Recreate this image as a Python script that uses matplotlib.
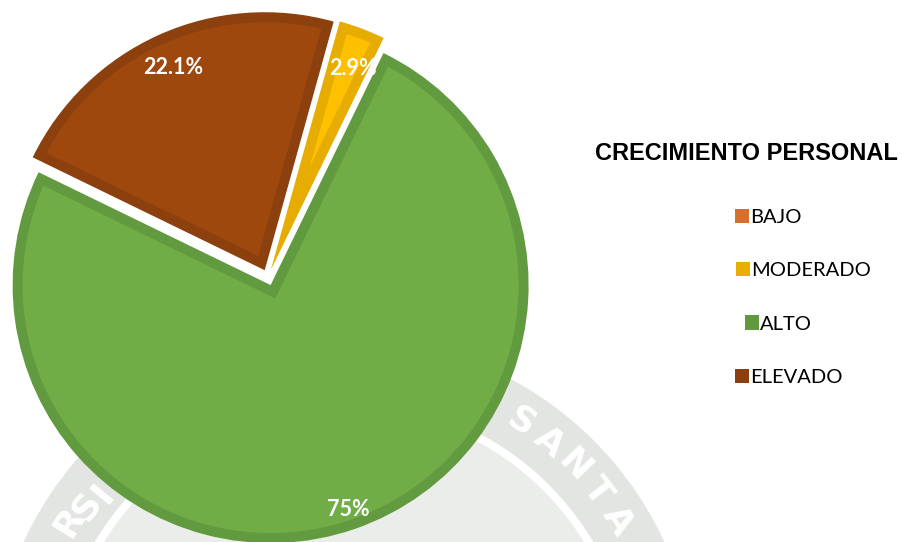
import matplotlib
matplotlib.use('Agg')
import matplotlib.pyplot as plt
from matplotlib.patches import Rectangle, Wedge, Polygon
import numpy as np

# ---- data ----
categories = ['BAJO', 'MODERADO', 'ALTO', 'ELEVADO']
values = [0.0, 2.9, 75.0, 22.1]
fill_colors = ['#D4712E', '#FFC000', '#70AD47', '#9E480E']
edge_colors = ['#C0631F', '#E6AD00', '#629A3F', '#8C400E']
legend_colors = ['#D66F2E', '#E8AE00', '#62993E', '#8B3F0E']
legend_title = 'CRECIMIENTO PERSONAL'

W, H = 904, 542
fig = plt.figure(figsize=(W / 100, H / 100), dpi=100)
fig.patch.set_facecolor('white')

R = 258.0              # pie radius in pixels
cx, cy = 268.0, 277.5  # pie centre in pixels (from top-left)
border = 10.0 / R      # inner border width (data units)

ax = fig.add_axes([0, 0, 1, 1])
ax.set_facecolor('none')

# ---- faint watermark seal (background) ----
sx, sy = (344 - cx) / R, (cy - 690) / R
ax.add_patch(Wedge((sx, sy), 282 / R, 0, 360,
                   facecolor='#EBEDEA', edgecolor='none', zorder=0))
ax.add_patch(Wedge((sx, sy), 353 / R, 0, 360, width=63 / R,
                   facecolor='#E2E5E1', edgecolor='none', zorder=0))
for word, angs, rads in [('SANTA', [56.6, 50.4, 44.2, 38.0, 31.8], [322] * 5),
                         ('RSI', [148.5, 144.5, 140.7], [322, 316, 311])]:
    for ch, a, rr in zip(word, angs, rads):
        t = np.deg2rad(a)
        ax.text(sx + rr / R * np.cos(t), sy + rr / R * np.sin(t), ch,
                rotation=a - 90, ha='center', va='center', fontsize=26,
                fontweight='bold', color='white', family='DejaVu Sans',
                zorder=0.5)


def fmt(p):
    return '' if p < 0.05 else f'{round(p, 1):g}%'


wedges, texts, autotexts = ax.pie(
    values, explode=[8 / R] * len(values), startangle=74.5, counterclock=False,
    colors=edge_colors, autopct=fmt, pctdistance=0.86, radius=1.0,
    wedgeprops=dict(linewidth=0, edgecolor='none'),
    textprops=dict(color='white', fontsize=15.5, fontweight='bold', family='Lato'))


def inset_polygon(w, b):
    P = np.array(w.center, dtype=float)
    r = w.r
    t1, t2 = np.deg2rad(w.theta1), np.deg2rad(w.theta2)
    d1 = np.array([np.cos(t1), np.sin(t1)])
    d2 = np.array([np.cos(t2), np.sin(t2)])
    n1 = np.array([-d1[1], d1[0]])
    n2 = np.array([d2[1], -d2[0]])
    A = np.linalg.solve(np.vstack([n1, n2]), [b, b])
    rho = r - b

    def hit(d):
        ad = A @ d
        t = -ad + np.sqrt(ad * ad - A @ A + rho * rho)
        return A + t * d

    X1, X2 = hit(d1), hit(d2)
    wrap = lambda v: (v + np.pi) % (2 * np.pi) - np.pi
    a1 = t1 + wrap(np.arctan2(X1[1], X1[0]) - t1)
    a2 = t2 + wrap(np.arctan2(X2[1], X2[0]) - t2)
    arc = np.linspace(a1, a2, 300)
    pts = [P + A] + [P + rho * np.array([np.cos(a), np.sin(a)]) for a in arc]
    return np.array(pts)


label_dist = [0.86, 0.845, 0.92, 0.864]
label_rot = [0.0, -1.5, 0.0, 0.0]   # small angular nudge of label (deg)
for w, v, fc, t, ld, lr in zip(wedges, values, fill_colors, autotexts,
                               label_dist, label_rot):
    w.set_zorder(2)
    if v == 0:
        w.set_visible(False)
        continue
    ax.add_patch(Polygon(inset_polygon(w, border), closed=True, facecolor=fc,
                         edgecolor='none', zorder=3))
    mid = np.deg2rad(0.5 * (w.theta1 + w.theta2) + lr)
    t.set_position((w.center[0] + ld * w.r * np.cos(mid),
                    w.center[1] + ld * w.r * np.sin(mid)))
    t.set_zorder(5)

ax.set_aspect('auto')
ax.set_xlim(-cx / R, (W - cx) / R)
ax.set_ylim(-(H - cy) / R, cy / R)
ax.axis('off')

# ---- legend (pixel coordinates overlay) ----
lax = fig.add_axes([0, 0, 1, 1])
lax.set_xlim(0, W)
lax.set_ylim(H, 0)
lax.axis('off')
lax.set_facecolor('none')

lax.text(746.5, 160, legend_title, ha='center', va='baseline', fontsize=17,
         fontweight='bold', family='Liberation Sans', color='black')

sq_x = [735, 736, 745, 735]
row_y = [216, 269, 322.5, 376]
sq = 14.5
for name, col, x0, yc in zip(categories, legend_colors, sq_x, row_y):
    lax.add_patch(Rectangle((x0, yc - sq / 2), sq, sq, facecolor=col,
                            edgecolor='none'))
    lax.text(x0 + sq + 0.5, yc + 7.2, name, ha='left', va='baseline',
             fontsize=14.5, family='Lato', color='black')

fig.savefig('out.png', dpi=100, facecolor='white')
